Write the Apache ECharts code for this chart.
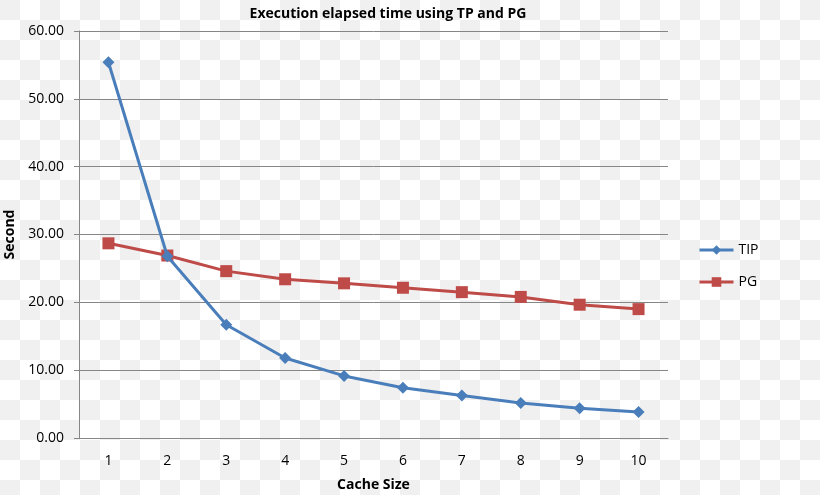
<!DOCTYPE html>
<html>
<head>
<meta charset="utf-8">
<script src="https://cdn.jsdelivr.net/npm/echarts@6/dist/echarts.min.js"></script>
<style>html,body{margin:0;padding:0;}#c{width:820px;height:495px;}</style>
</head>
<body>
<div id="c"></div>
<script>
const categories = ['1','2','3','4','5','6','7','8','9','10'];
const tipValues = [55.4, 26.8, 16.7, 11.8, 9.15, 7.4, 6.25, 5.15, 4.4, 3.85];
const pgValues = [28.7, 26.9, 24.6, 23.4, 22.8, 22.15, 21.5, 20.8, 19.65, 19.0];
const seriesNames = ['TIP', 'PG'];
const titleText = 'Execution elapsed time using TP and PG';
const xName = 'Cache Size';
const yName = 'Second';

// transparency-checker background seen in the reference
const pat = document.createElement('canvas');
pat.width = 40; pat.height = 40;
const pc = pat.getContext('2d');
pc.fillStyle = '#ffffff'; pc.fillRect(0,0,40,40);
pc.fillStyle = '#f0f0f0'; pc.fillRect(0,0,20,20); pc.fillRect(20,20,20,20);

const font = '"Liberation Sans Narrow", "Open Sans", sans-serif';
const chart = echarts.init(document.getElementById('c'), null, {renderer:'canvas'});
chart.setOption({
  backgroundColor: {image: pat, repeat: 'repeat'},
  animation: false,
  title: {
    text: titleText, left: 383, top: 2, textAlign: 'center',
    textStyle: {fontFamily: font, fontSize: 14, fontWeight: 'bold', color: '#000'}
  },
  legend: {
    orient: 'vertical', left: 693, top: 238, itemGap: 18, itemWidth: 34, itemHeight: 12,
    lineStyle: {width: 3},
    textStyle: {fontFamily: font, fontSize: 14, color: '#000'},
    data: seriesNames
  },
  grid: {left: 79, right: 152, top: 31, bottom: 57, containLabel: false, outerBoundsMode: 'none'},
  xAxis: {
    type: 'category', data: categories, boundaryGap: true,
    name: xName, nameLocation: 'middle', nameGap: 40,
    nameTextStyle: {fontFamily: font, fontSize: 14, fontWeight: 'bold', color: '#000'},
    axisLine: {lineStyle: {color: '#868686', width: 1}},
    axisTick: {show: false},
    axisLabel: {fontFamily: font, fontSize: 14, color: '#000', margin: 16}
  },
  yAxis: {
    type: 'value', min: 0, max: 60, interval: 10,
    name: yName, nameLocation: 'middle', nameGap: 60, nameRotate: 90,
    nameTextStyle: {fontFamily: font, fontSize: 14, fontWeight: 'bold', color: '#000'},
    axisLine: {show: true, lineStyle: {color: '#868686', width: 1}},
    axisTick: {show: true, length: 5, lineStyle: {color: '#868686'}},
    splitLine: {lineStyle: {color: '#868686', width: 1}},
    axisLabel: {fontFamily: font, fontSize: 14, color: '#000', margin: 15,
      formatter: v => v.toFixed(2)}
  },
  series: [
    {name: seriesNames[0], type: 'line', data: tipValues, symbol: 'diamond', symbolSize: 12,
     lineStyle: {color: '#4a7ebb', width: 3}, itemStyle: {color: '#4a7ebb'}, z: 3},
    {name: seriesNames[1], type: 'line', data: pgValues, symbol: 'rect', symbolSize: 12,
     lineStyle: {color: '#be4b48', width: 3}, itemStyle: {color: '#be4b48'}, z: 2}
  ]
});
</script>
</body>
</html>
